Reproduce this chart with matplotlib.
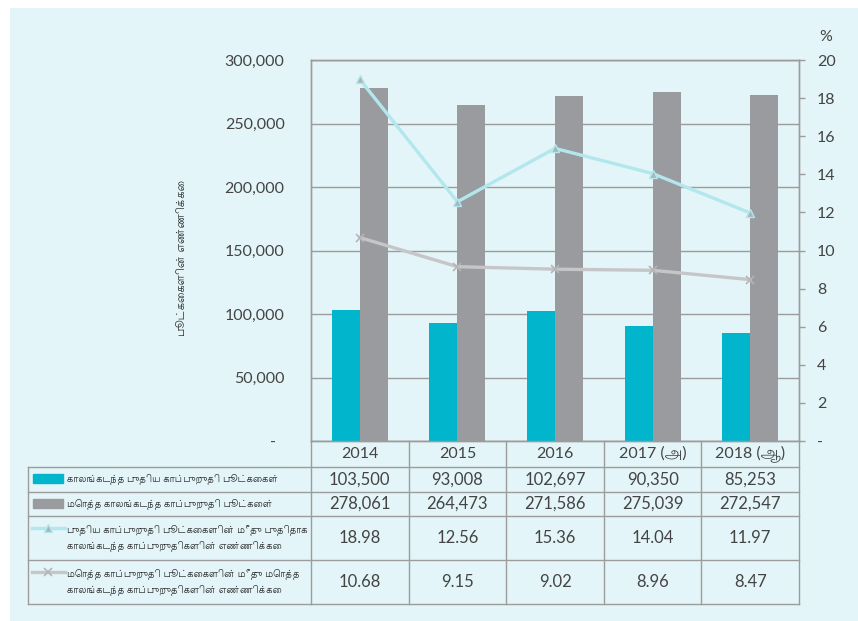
import matplotlib
matplotlib.use('Agg')
import matplotlib.pyplot as plt
import matplotlib.transforms as mtransforms
from matplotlib.lines import Line2D
from matplotlib.patches import Rectangle

plt.rcParams['font.family'] = ['Lato', 'Lohit Tamil', 'DejaVu Sans']

# ---- data ----
years = ['2014', '2015', '2016', '2017 (அ)', '2018 (ஆ)']
new_lapsed = [103500, 93008, 102697, 90350, 85253]
total_lapsed = [278061, 264473, 271586, 275039, 272547]
new_pct = [18.98, 12.56, 15.36, 14.04, 11.97]
total_pct = [10.68, 9.15, 9.02, 8.96, 8.47]

row_labels = [
    'காலங்கடந்த புதிய காப்புறுதி பூட்கைகள்',
    'மொத்த காலங்கடந்த காப்புறுதி பூட்கைள்',
    'புதிய காப்புறுதி பூட்கைகளின் மீது புதிதாக\nகாலங்கடந்த காப்புறுதிகளின் எண்ணிக்கை',
    'மொத்த காப்புறுதி பூட்கைகளின் மீது மொத்த\nகாலங்கடந்த காப்புறுதிகளின் எண்ணிக்கை',
]
ylabel = 'பூட்கைகளின் எண்ணிக்கை'

# ---- style ----
BG = '#e3f5f8'
CYAN = '#00b5cc'
GREY = '#9a9b9f'
LCYAN = '#b2e7ed'
LGREY = '#c6c6c8'
RULE = '#9c9c9c'
TXT = '#444444'
TAMIL = ['Lohit Tamil', 'DejaVu Sans']
NUMF = ['Lato', 'Lohit Tamil', 'DejaVu Sans']

W, H = 858, 621
fig = plt.figure(figsize=(W / 100, H / 100), dpi=100)
fig.patch.set_facecolor('white')
fig.add_artist(Rectangle((10 / W, 0), 1 - 10 / W, 1 - 8 / H,
                         transform=fig.transFigure, facecolor=BG,
                         edgecolor='none', zorder=-10))

def fy(py):
    return 1 - py / H

ax = fig.add_axes([311 / W, fy(441), (799 - 311) / W, (441 - 60) / H])
ax.set_facecolor('none')
ax2 = ax.twinx()

x = list(range(len(years)))
bw = 0.287
ax.bar([i - bw / 2 for i in x], new_lapsed, bw, color=CYAN, zorder=3)
ax.bar([i + bw / 2 for i in x], total_lapsed, bw, color=GREY, zorder=3)
ax.set_xlim(-0.5, len(years) - 0.5)
ax.set_ylim(0, 300000)
ax.set_yticks(range(0, 300001, 50000))
ax.set_yticklabels(['-  '] + ['{:,}'.format(v) for v in range(50000, 300001, 50000)],
                   fontsize=11.5, color=TXT, family=NUMF)
ax.tick_params(axis='y', length=0, pad=19)
ax.set_xticks([])
ax.set_axisbelow(True)
ax.yaxis.grid(True, color=RULE, lw=1)
for s in ax.spines.values():
    s.set_color(RULE)
    s.set_linewidth(1)

ax2.plot(x, new_pct, color=LCYAN, lw=2.4, marker='^', ms=6,
         markerfacecolor='#a9b5b8', markeredgecolor=LCYAN, zorder=4)
ax2.plot(x, total_pct, color=LGREY, lw=2.4, marker='x', ms=6,
         markeredgecolor='#b5b5b7', mew=1.2, zorder=4)
ax2.set_ylim(0, 20)
ax2.set_yticks(range(0, 21, 2))
ax2.set_yticklabels(['-'] + [str(v) for v in range(2, 21, 2)],
                    fontsize=11.5, color=TXT, family=NUMF)
ax2.tick_params(axis='y', length=4, width=1, color=RULE, pad=9)
for s in ax2.spines.values():
    s.set_color(RULE)
    s.set_linewidth(1)
fig.text(826 / W, fy(37), '%', ha='center', va='center', fontsize=11.5,
         color=TXT, family=NUMF)

fig.text(182 / W, fy(258), ylabel, rotation=90, ha='center', va='center',
         fontsize=8, fontweight='bold', color='#222222', family=TAMIL)

# ---- data table under the chart ----
tr = mtransforms.blended_transform_factory(ax.transData, fig.transFigure)
rows = [(441, 467), (467, 492), (492, 516), (516, 560), (560, 604)]
left_px, axl_px = 28, 311

def hline(x0, x1, py, t):
    fig.add_artist(Line2D([x0, x1], [fy(py), fy(py)], transform=t,
                          color=RULE, lw=1))

def vline(xv, py0, py1, t):
    fig.add_artist(Line2D([xv, xv], [fy(py0), fy(py1)], transform=t,
                          color=RULE, lw=1))

for top, bot in rows:
    hline(-0.5, len(years) - 0.5, bot, tr)
for top, bot in rows[1:]:
    hline(left_px / W, axl_px / W, top, fig.transFigure)
hline(left_px / W, axl_px / W, rows[-1][1], fig.transFigure)
vline(left_px / W, rows[1][0], rows[-1][1], fig.transFigure)
for i in range(len(years) + 1):
    vline(i - 0.5, rows[0][0], rows[-1][1], tr)

def ycen(r):
    return fy((rows[r][0] + rows[r][1]) / 2)

for i, yr in enumerate(years):
    fig.text(i, ycen(0), yr, transform=tr, ha='center', va='center',
             fontsize=11.5, color=TXT, family=NUMF)
    vals = ['{:,}'.format(new_lapsed[i]), '{:,}'.format(total_lapsed[i]),
            '{:.2f}'.format(new_pct[i]), '{:.2f}'.format(total_pct[i])]
    for r, v in enumerate(vals):
        fig.text(i, ycen(r + 1), v, transform=tr, ha='center', va='center',
                 fontsize=12, color=TXT, family=NUMF)

# legend keys
fig.add_artist(Rectangle((33 / W, fy(483)), 30 / W, 9 / H,
                         transform=fig.transFigure, color=CYAN))
fig.add_artist(Rectangle((33 / W, fy(508)), 30 / W, 9 / H,
                         transform=fig.transFigure, color=GREY))
fig.add_artist(Line2D([32 / W, 65 / W], [fy(528), fy(528)], transform=fig.transFigure,
                      color=LCYAN, lw=2.4))
fig.add_artist(Line2D([48 / W], [fy(528)], transform=fig.transFigure, marker='^',
                      ms=6, markerfacecolor='#a9b5b8', markeredgecolor=LCYAN, lw=0))
fig.add_artist(Line2D([32 / W, 65 / W], [fy(572), fy(572)], transform=fig.transFigure,
                      color=LGREY, lw=2.4))
fig.add_artist(Line2D([48 / W], [fy(572)], transform=fig.transFigure, marker='x',
                      ms=6, markeredgecolor='#b5b5b7', mew=1.2, lw=0))

for r, lab in enumerate(row_labels):
    fig.text(67 / W, ycen(r + 1), lab, ha='left', va='center', fontsize=7.0,
             color='#222222', family=TAMIL, linespacing=1.6)

fig.savefig('out.png', dpi=100, facecolor=fig.get_facecolor())
